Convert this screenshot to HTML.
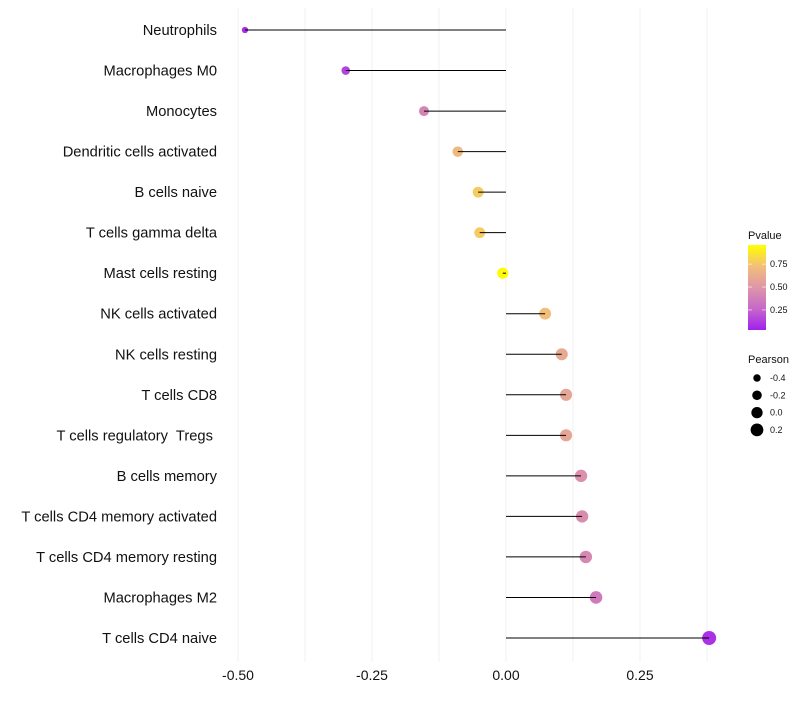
<!DOCTYPE html>
<html><head><meta charset="utf-8"><style>
body{margin:0;background:#fff;}
svg text{font-family:"Liberation Sans",sans-serif;white-space:pre;}
</style></head><body>
<svg id="chart" width="800" height="700" xmlns="http://www.w3.org/2000/svg"></svg>
<script>
const categories=["Neutrophils","Macrophages M0","Monocytes","Dendritic cells activated","B cells naive","T cells gamma delta","Mast cells resting","NK cells activated","NK cells resting","T cells CD8","T cells regulatory  Tregs ","B cells memory","T cells CD4 memory activated","T cells CD4 memory resting","Macrophages M2","T cells CD4 naive"];
const pearson=[-0.487,-0.299,-0.153,-0.090,-0.052,-0.049,-0.006,0.073,0.104,0.112,0.112,0.140,0.142,0.149,0.168,0.379];
const pvalues=[0.05,0.12,0.40,0.72,0.80,0.80,0.98,0.75,0.62,0.60,0.60,0.47,0.45,0.42,0.35,0.06];
const xTicks=[-0.5,-0.25,0,0.25];
const xTickLabels=["-0.50","-0.25","0.00","0.25"];
const xMinor=[-0.375,-0.125,0.125,0.375];
const legendP=[0.25,0.5,0.75];
const legendPLabels=["0.25","0.50","0.75"];
const legendS=[-0.4,-0.2,0.0,0.2];
const legendSLabels=["-0.4","-0.2","0.0","0.2"];

const NS="http://www.w3.org/2000/svg";
const svg=document.getElementById('chart');
function el(t,a,p){const e=document.createElementNS(NS,t);for(const k in a)e.setAttribute(k,a[k]);(p||svg).appendChild(e);return e;}
const x=v=>506+v*536;
const y=i=>30+i*(608/15);
const r=v=>Math.sqrt(Math.max(4,31.9+45*v));
const stops=[[0,[160,32,240]],[0.25,[198,104,200]],[0.5,[222,150,168]],[0.75,[243,190,122]],[1,[255,255,0]]];
function col(p){for(let i=1;i<stops.length;i++){if(p<=stops[i][0]){const a=stops[i-1],b=stops[i];const t=(p-a[0])/(b[0]-a[0]);const c=a[1].map((v,j)=>Math.round(v+(b[1][j]-v)*t));return `rgb(${c})`;}}return 'rgb(255,255,0)';}

const grid=el('g',{});


xMinor.concat(xTicks).forEach(v=>{const l=el('line',{x1:x(v),x2:x(v),y1:8,y2:662,stroke:'#f2f2f2','stroke-width':1},grid);

});

xTicks.forEach((v,i)=>{const t=el('text',{x:x(v),y:680,'text-anchor':'middle','font-size':14,fill:'#111'});t.textContent=xTickLabels[i];

});

categories.forEach((c,i)=>{
const t=el('text',{x:217,y:y(i)+5,'text-anchor':'end','font-size':14.7,fill:'#111'});t.textContent=c;


const d=el('circle',{cx:x(pearson[i]),cy:y(i),r:r(pearson[i]),fill:col(pvalues[i])});


const l=el('line',{x1:x(0),x2:x(pearson[i]),y1:y(i),y2:y(i),stroke:'#000','stroke-width':1});


});

const lt=el('text',{x:748,y:239,'font-size':11,fill:'#111'});lt.textContent='Pvalue';


const defs=el('defs',{});const g=el('linearGradient',{id:'pg',x1:0,y1:1,x2:0,y2:0},defs);
stops.forEach(s=>el('stop',{offset:s[0],'stop-color':`rgb(${s[1]})`},g));
const pTop=245,pBot=330,pMin=0.03,pMax=0.96;
const py=p=>pBot-(p-pMin)/(pMax-pMin)*(pBot-pTop);
const bar=el('rect',{x:748,y:pTop,width:18,height:pBot-pTop,fill:'url(#pg)'});


legendP.forEach((p,i)=>{el('line',{x1:748,x2:752,y1:py(p),y2:py(p),stroke:'#fff','stroke-opacity':0.6});el('line',{x1:762,x2:766,y1:py(p),y2:py(p),stroke:'#fff','stroke-opacity':0.6});
const t=el('text',{x:770,y:py(p)+3,'font-size':9,fill:'#111'});t.textContent=legendPLabels[i];

});

const st=el('text',{x:748,y:363,'font-size':11,fill:'#111'});st.textContent='Pearson';


legendS.forEach((v,i)=>{const cy=378+i*17.3;
const c=el('circle',{cx:757,cy:cy,r:r(v),fill:'#000'});


const t=el('text',{x:770,y:cy+3,'font-size':9,fill:'#111'});t.textContent=legendSLabels[i];

});
</script>
</body></html>
